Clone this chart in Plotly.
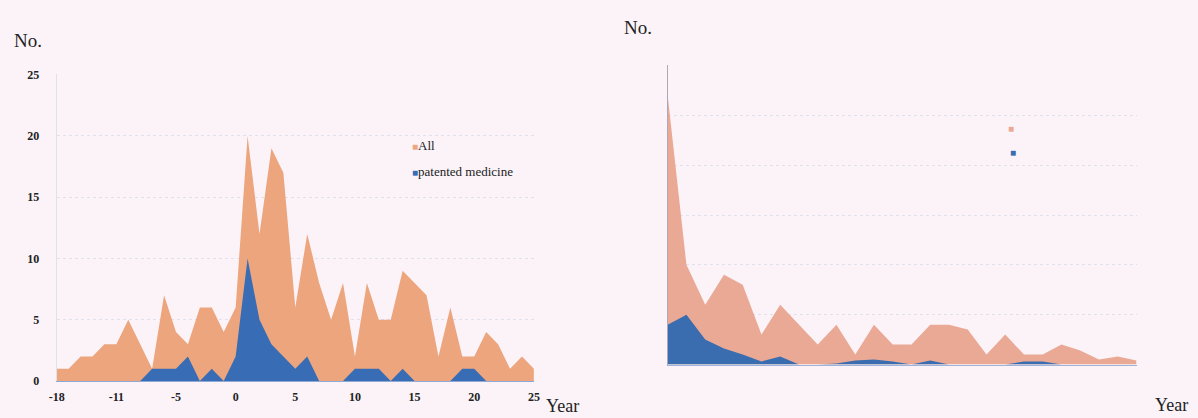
import plotly.graph_objects as go

# ---------------- data ----------------
# left chart: categories (years relative to approval), only some years present before 0
years_left = ["-18", "-17", "-15", "-14", "-12", "-11", "-10", "-9", "-8", "-6",
              "-5", "-4", "-3", "-2", "-1"] + [str(y) for y in range(0, 26)]
all_left = [1, 1, 2, 2, 3, 3, 5, 3, 1, 7,
            4, 3, 6, 6, 4, 6, 20, 12, 19, 17,
            6, 12, 8, 5, 8, 2, 8, 5, 5, 9,
            8, 7, 2, 6, 2, 2, 4, 3, 1, 2, 1]
patent_left = [0, 0, 0, 0, 0, 0, 0, 0, 1, 1,
               1, 2, 0, 1, 0, 2, 10, 5, 3, 2,
               1, 2, 0, 0, 0, 1, 1, 1, 0, 1,
               0, 0, 0, 0, 1, 1, 0, 0, 0, 0, 0]
left_ticks = ["-18", "-11", "-5", "0", "5", "10", "15", "20", "25"]

# right chart: years 0..25
years_right = list(range(0, 26))
all_right = [27, 10, 6, 9, 8, 3, 6, 4, 2, 4,
             1, 4, 2, 2, 4, 4, 3.5, 1, 3, 1,
             1, 2, 1.4, 0.5, 0.8, 0.4]
patent_right = [4, 5, 2.5, 1.6, 1, 0.3, 0.8, 0, 0, 0.1,
                0.4, 0.5, 0.3, 0, 0.4, 0, 0, 0, 0, 0.3,
                0.3, 0, 0, 0, 0, 0]

# ---------------- style ----------------
W, H = 1198, 418
BG = "#fbf3f8"
ORANGE_L = "#eca57d"
BLUE_L = "#386db5"
ORANGE_R = "#eaa994"
BLUE_R = "#3a6cb0"
SERIF = "Liberation Serif, Times New Roman, serif"
GRID = "#dfe1ec"


def px_x(p):
    return p / W


def px_y(p):
    return 1 - p / H


fig = go.Figure()

fig.add_trace(go.Scatter(x=years_left, y=all_left, name="All", mode="lines",
                         line=dict(width=0, color=ORANGE_L), fill="tozeroy",
                         fillcolor=ORANGE_L, xaxis="x", yaxis="y", showlegend=False))
fig.add_trace(go.Scatter(x=years_left, y=patent_left, name="patented medicine", mode="lines",
                         line=dict(width=0, color=BLUE_L), fill="tozeroy",
                         fillcolor=BLUE_L, xaxis="x", yaxis="y", showlegend=False))
fig.add_trace(go.Scatter(x=years_right, y=all_right, name="All", mode="lines",
                         line=dict(width=0, color=ORANGE_R), fill="tozeroy",
                         fillcolor=ORANGE_R, xaxis="x2", yaxis="y2", showlegend=False))
fig.add_trace(go.Scatter(x=years_right, y=patent_right, name="patented medicine", mode="lines",
                         line=dict(width=0, color=BLUE_R), fill="tozeroy",
                         fillcolor=BLUE_R, xaxis="x2", yaxis="y2", showlegend=False))

fig.update_layout(
    width=W, height=H,
    paper_bgcolor=BG, plot_bgcolor=BG,
    margin=dict(l=0, r=0, t=0, b=0, autoexpand=False),
    showlegend=False,
    xaxis=dict(domain=[px_x(56.7), px_x(533.9)], type="category",
               categoryorder="array", categoryarray=years_left,
               range=[0, len(years_left) - 1],
               tickmode="array", tickvals=left_ticks, ticktext=left_ticks,
               showgrid=False, zeroline=False,
               showline=True, linecolor="#8fa8d6", linewidth=1,
               ticks="", ticklabelstandoff=5, automargin=False,
               tickfont=dict(family=SERIF, size=12, color="#222222", weight="bold"),
               anchor="y", fixedrange=True),
    yaxis=dict(domain=[px_y(381), px_y(74)], range=[0, 25.05],
               tickmode="array", tickvals=[0, 5, 10, 15, 20, 25],
               showgrid=True, gridcolor=GRID, gridwidth=1, griddash="dot",
               zeroline=False, showline=True, linecolor=GRID, linewidth=1,
               ticks="", ticklabelstandoff=14, automargin=False,
               tickfont=dict(family=SERIF, size=12, color="#222222", weight="bold"),
               anchor="x", fixedrange=True),
    xaxis2=dict(domain=[px_x(667.7), px_x(1136.5)], range=[0, 25],
                showticklabels=False, showgrid=False, zeroline=False,
                showline=True, linecolor="#9fb2d8", linewidth=1, ticks="",
                automargin=False, anchor="y2", fixedrange=True),
    yaxis2=dict(domain=[px_y(364.5), px_y(65)], range=[0, 30.05],
                tickmode="array", tickvals=[5, 10, 15, 20, 25, 30],
                showticklabels=False, showgrid=True, gridcolor=GRID, gridwidth=1,
                griddash="dot", zeroline=False,
                showline=True, linecolor="#a9a9b8", linewidth=1, ticks="",
                automargin=False, anchor="x2", fixedrange=True),
)

ann = []
# axis captions
ann.append(dict(x=px_x(28), y=px_y(40), text="No.", showarrow=False,
                font=dict(family=SERIF, size=19, color="#222222"),
                xref="paper", yref="paper", xanchor="center", yanchor="middle"))
ann.append(dict(x=px_x(638), y=px_y(27), text="No.", showarrow=False,
                font=dict(family=SERIF, size=19, color="#222222"),
                xref="paper", yref="paper", xanchor="center", yanchor="middle"))
ann.append(dict(x=px_x(544), y=px_y(406), text="Year", showarrow=False,
                font=dict(family=SERIF, size=18, color="#222222"),
                xref="paper", yref="paper", xanchor="left", yanchor="middle"))
ann.append(dict(x=px_x(1153), y=px_y(405), text="Year", showarrow=False,
                font=dict(family=SERIF, size=18, color="#222222"),
                xref="paper", yref="paper", xanchor="left", yanchor="middle"))

# left legend
ann.append(dict(x=px_x(410), y=px_y(145),
                text=f'<span style="color:{ORANGE_L};font-size:10px">■</span>All',
                showarrow=False, font=dict(family=SERIF, size=13, color="#222222"),
                xref="paper", yref="paper", xanchor="left", yanchor="middle"))
ann.append(dict(x=px_x(410), y=px_y(171),
                text=f'<span style="color:{BLUE_L};font-size:10px">■</span>patented medicine',
                showarrow=False, font=dict(family=SERIF, size=13, color="#222222"),
                xref="paper", yref="paper", xanchor="left", yanchor="middle"))
# right legend (markers only)
ann.append(dict(x=px_x(1011), y=px_y(128),
                text=f'<span style="color:{ORANGE_R}">■</span>',
                showarrow=False, font=dict(family=SERIF, size=10),
                xref="paper", yref="paper", xanchor="center", yanchor="middle"))
ann.append(dict(x=px_x(1013), y=px_y(152),
                text=f'<span style="color:{BLUE_R}">■</span>',
                showarrow=False, font=dict(family=SERIF, size=10),
                xref="paper", yref="paper", xanchor="center", yanchor="middle"))

fig.update_layout(annotations=ann)

fig.write_html("out.html", config={"displayModeBar": False},
               post_script="document.body.style.margin='0';")
